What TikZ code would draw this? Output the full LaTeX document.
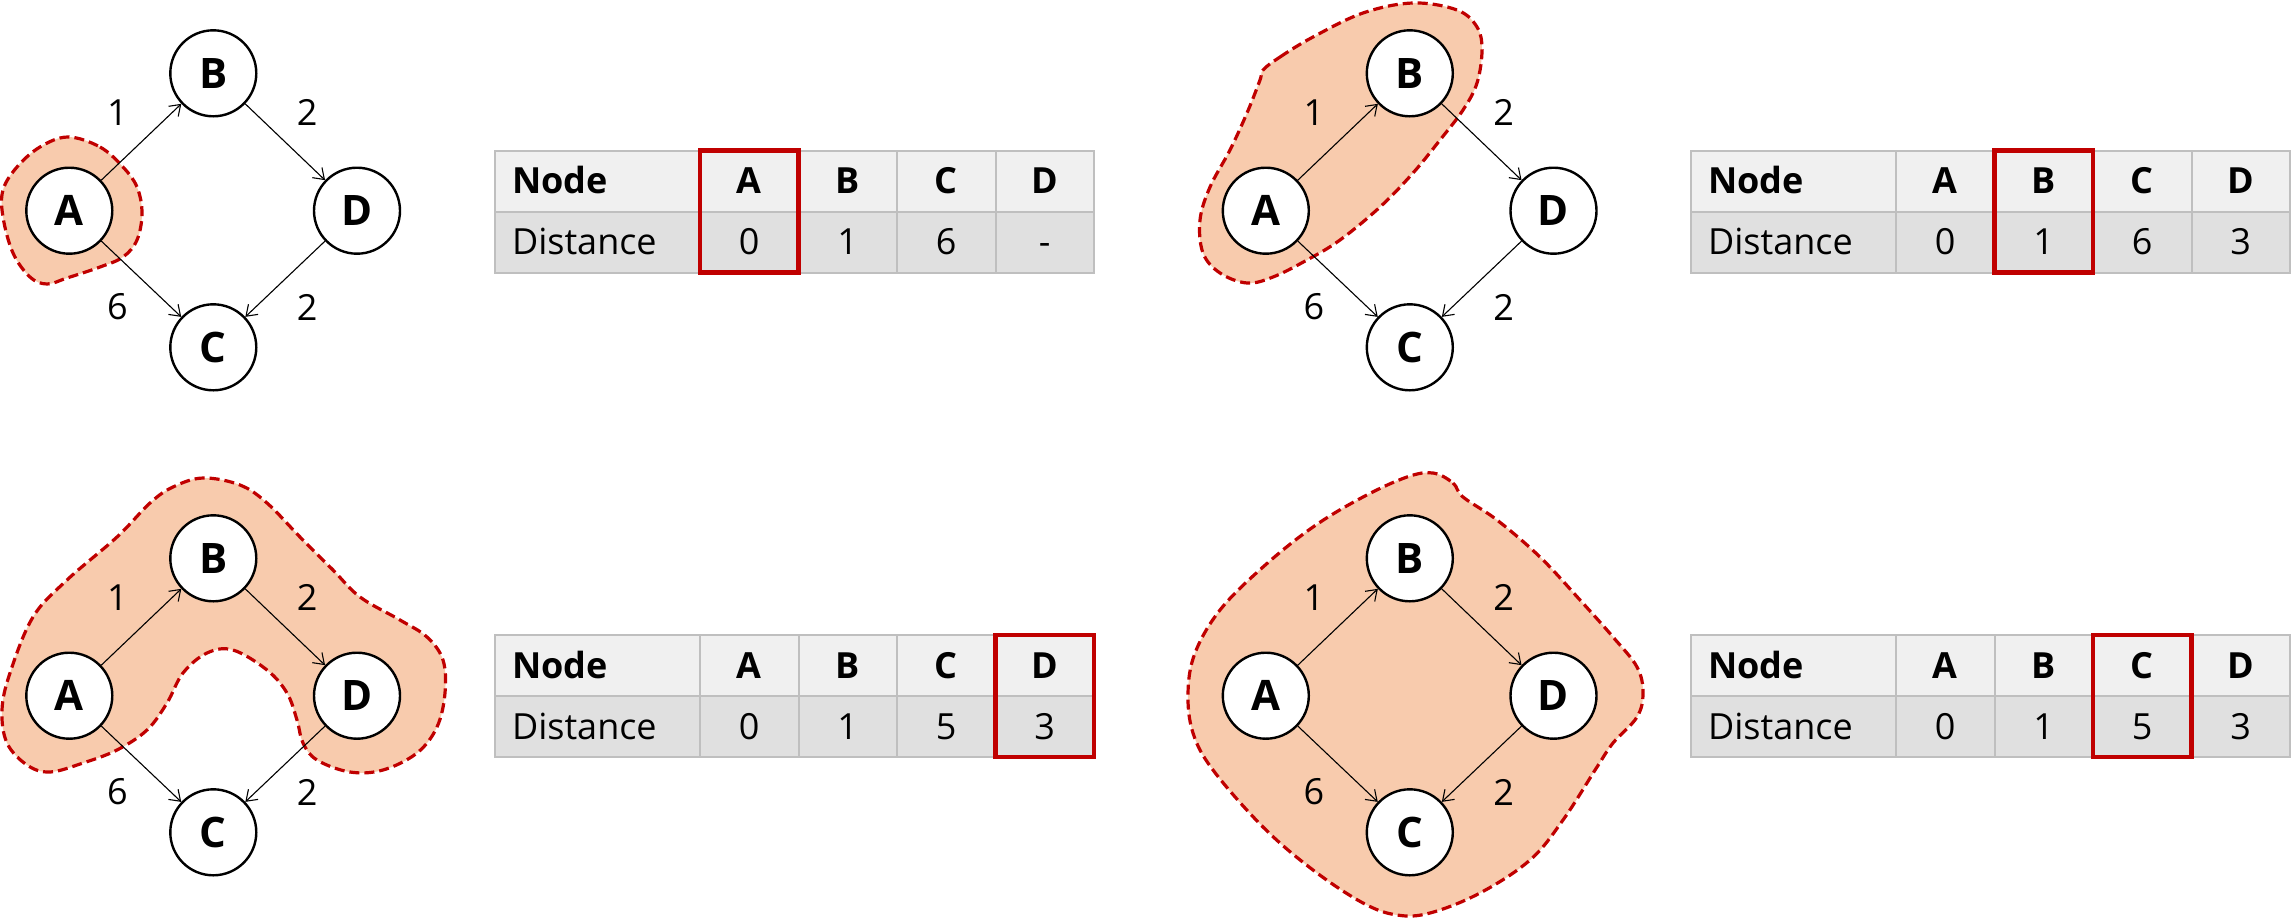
\documentclass[tikz,border=0pt]{standalone}
\usepackage{fontspec}
\setmainfont{Open Sans}
\usetikzlibrary{arrows.meta}
\definecolor{blobfill}{HTML}{F8CBAD}
\definecolor{blobline}{HTML}{C00000}
\definecolor{gridc}{HTML}{BFBFBF}
\definecolor{hfill}{HTML}{F0F0F0}
\definecolor{dfill}{HTML}{E0E0E0}
\definecolor{redc}{HTML}{C00000}
\tikzset{
 vert/.style={circle, draw=black, line width=1.2pt, fill=white, minimum size=43pt, inner sep=0pt, font=\fontsize{21}{21}\selectfont\bfseries, text height=15pt, text depth=0pt},
 edge/.style={draw=black, line width=0.55pt, -{Straight Barb[length=5pt,width=7pt]}},
 elbl/.style={font=\fontsize{18}{18}\selectfont, text height=12.9pt, text depth=0pt, inner sep=0pt},
 blob/.style={draw=blobline, fill=blobfill, line width=1.6pt, dash pattern=on 5pt off 2.5pt},
 cell/.style={draw=gridc, line width=1pt, minimum height=30.5pt, inner ysep=0pt, anchor=north west, outer sep=0pt, font=\fontsize{18}{18}\selectfont, text height=12.9pt, text depth=0pt},
 hcell/.style={cell, fill=hfill, font=\fontsize{18}{18}\selectfont\bfseries},
 dcell/.style={cell, fill=dfill},
 wide/.style={text width=85.5pt, inner xsep=8.5pt, align=left},
 narrow/.style={minimum width=49.25pt, inner xsep=0pt},
 redbox/.style={draw=redc, line width=2.3pt},
}
\newcommand\mygraph[3]{%
 \begin{scope}[shift={(#1,#2)}]
 \node[vert] (A#3) at (69.3,210.7) {A};
 \node[vert] (B#3) at (213.3,73.3) {B};
 \node[vert] (C#3) at (213.3,347.3) {C};
 \node[vert] (D#3) at (357,210.7) {D};
 \draw[edge] (A#3) -- node[elbl, shift={(-24,-29)}] {1} (B#3);
 \draw[edge] (B#3) -- node[elbl, shift={(22,-29)}] {2} (D#3);
 \draw[edge] (A#3) -- node[elbl, shift={(-24,28)}] {6} (C#3);
 \draw[edge] (D#3) -- node[elbl, shift={(22,29)}] {2} (C#3);
 \end{scope}}
\newcommand\mytable[8]{%
 \begin{scope}[shift={(#1,#2)}]
 \node[hcell, wide] (h#3-0) at (495,150.5) {Node};
 \node[hcell, narrow] (h#3-1) at (h#3-0.north east) {A};
 \node[hcell, narrow] (h#3-2) at (h#3-1.north east) {B};
 \node[hcell, narrow] (h#3-3) at (h#3-2.north east) {C};
 \node[hcell, narrow] (h#3-4) at (h#3-3.north east) {D};
 \node[dcell, wide] (d#3-0) at (h#3-0.south west) {Distance};
 \node[dcell, narrow] (d#3-1) at (h#3-1.south west) {#4};
 \node[dcell, narrow] (d#3-2) at (h#3-2.south west) {#5};
 \node[dcell, narrow] (d#3-3) at (h#3-3.south west) {#6};
 \node[dcell, narrow] (d#3-4) at (h#3-4.south west) {#7};
 \draw[redbox] (h#3-#8.north west) rectangle (d#3-#8.south east);
 \end{scope}}
\begin{document}
\begin{tikzpicture}[x=0.5pt,y=-0.5pt]
\fill[white] (0,0) rectangle (2292,917);
\useasboundingbox (0,0) rectangle (2292,917);
% blobs
\draw[blob] plot[smooth cycle, tension=0.6] coordinates {
 (68,137) (100,147) (123,167) (137,187) (142,213) (137,240) (123,257) (100,267)
 (67,278) (47,284) (30,277) (13,253) (3,217) (3,190) (17,167) (40,147)};
\draw[blob] plot[smooth cycle, tension=0.6] coordinates {
 (1263,70) (1280,57) (1313,37) (1363,13) (1413,3) (1457,10) (1477,27) (1482,50)
 (1477,83) (1463,110) (1440,140) (1413,173) (1380,207) (1340,240) (1307,260)
 (1273,277) (1247,283) (1220,273) (1203,253) (1200,220) (1210,187) (1230,150)
 (1247,113) (1260,80)};
\draw[blob] plot[smooth cycle, tension=0.6] coordinates {
 (203,478) (240,485) (267,503) (300,537) (333,570) (360,597) (400,620) (427,637)
 (443,660) (445,693) (437,727) (417,753) (383,770) (350,772) (317,760) (303,743)
 (297,720) (287,693) (267,670) (233,650) (207,653) (183,673) (167,703) (147,730)
 (117,750) (83,763) (50,772) (27,765) (7,743) (2,710) (10,673) (33,617) (67,580)
 (117,537) (150,503) (173,487)};
\draw[blob] plot[smooth cycle, tension=0.6] coordinates {
 (1433,473) (1453,483) (1463,497) (1497,520) (1540,557) (1580,600) (1613,637)
 (1637,667) (1643,693) (1637,717) (1613,743) (1597,767) (1563,820) (1530,860)
 (1480,893) (1430,913) (1397,915) (1363,903) (1313,870) (1263,827) (1213,770)
 (1193,733) (1188,693) (1195,653) (1220,610) (1263,567) (1313,527) (1363,497)
 (1407,477)};
% graphs
\mygraph{0}{0}{a}
\mygraph{1196.5}{0}{b}
\mygraph{0}{485}{c}
\mygraph{1196.5}{485}{d}
% tables
\mytable{0}{0}{ta}{0}{1}{6}{-}{1}
\mytable{1196}{0}{tb}{0}{1}{6}{3}{2}
\mytable{0}{484.5}{tc}{0}{1}{5}{3}{4}
\mytable{1196}{484.5}{td}{0}{1}{5}{3}{3}
\end{tikzpicture}
\end{document}
